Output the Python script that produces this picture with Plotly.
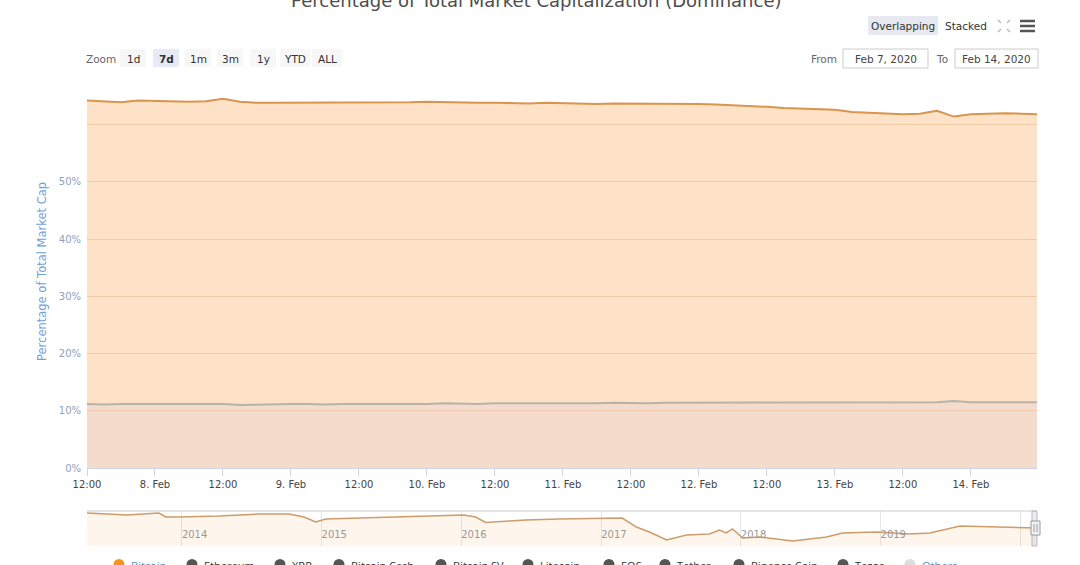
import plotly.graph_objects as go
import pandas as pd

# ---------------- data ----------------
btc_start = "2020-02-07 12:00"
btc_values = [64.2, 64.1, 63.9, 64.2, 64.1, 64.1, 64.0, 64.1, 64.5, 64.0,
              63.8, 63.8, 63.8, 63.8, 63.9, 63.8, 63.8, 63.9, 63.8, 63.9,
              64.0, 63.9, 63.8, 63.8, 63.8, 63.7, 63.7, 63.8, 63.7, 63.7,
              63.6, 63.7, 63.7, 63.6, 63.6, 63.6, 63.6, 63.5, 63.4, 63.2,
              63.1, 62.9, 62.8, 62.7, 62.6, 62.2, 62.1, 62.0, 61.8, 61.9,
              62.4, 61.4, 61.8, 61.9, 62.0, 61.9]
eth_values = [11.2, 11.1, 11.2, 11.2, 11.1, 11.1, 11.2, 11.2, 11.2, 11.0,
              11.1, 11.1, 11.2, 11.2, 11.1, 11.2, 11.2, 11.2, 11.1, 11.2,
              11.2, 11.3, 11.2, 11.2, 11.3, 11.3, 11.3, 11.2, 11.3, 11.3,
              11.3, 11.4, 11.3, 11.3, 11.4, 11.4, 11.4, 11.5, 11.4, 11.4,
              11.5, 11.4, 11.5, 11.5, 11.4, 11.5, 11.4, 11.5, 11.4, 11.5,
              11.5, 11.7, 11.5, 11.5, 11.5, 11.5]
end_time = "2020-02-14 11:40"
btc_end, eth_end = 61.8, 11.5

btc_times = list(pd.date_range(btc_start, periods=len(btc_values), freq="3h")) + [pd.Timestamp(end_time)]
btc_series = btc_values + [btc_end]
eth_series = eth_values + [eth_end]

nav_dates = ["2013-04-28", "2013-08-11", "2013-11-02", "2013-11-20", "2013-12-24",
             "2014-04-08", "2014-07-21", "2014-10-08", "2014-11-16", "2014-12-17",
             "2015-01-12", "2015-04-08", "2015-07-22", "2015-11-03", "2016-01-08",
             "2016-02-08", "2016-03-05", "2016-05-05", "2016-06-18", "2016-09-13",
             "2016-12-27", "2017-02-25", "2017-04-03", "2017-05-07", "2017-06-21",
             "2017-08-12", "2017-10-11", "2017-11-06", "2017-11-24", "2017-12-10",
             "2018-01-06", "2018-02-19", "2018-05-16", "2018-08-13", "2018-09-24",
             "2018-12-22", "2019-03-18", "2019-05-10", "2019-07-28", "2019-10-14",
             "2019-12-05", "2020-02-04", "2020-02-14"]
nav_values = [95.5, 91.1, 95.5, 86.6, 86.6,
              88.9, 93.3, 93.3, 86.6, 75.5,
              82.2, 84.4, 86.6, 88.9, 91.1,
              86.6, 74.4, 77.7, 79.9, 82.2,
              84.4, 84.4, 64.3, 53.2, 35.4,
              46.5, 48.7, 57.7, 51.0, 59.9,
              39.8, 42.1, 33.1, 42.1, 51.0,
              53.2, 48.7, 51.0, 66.6, 65.0,
              64.3, 62.1, 62.0]

x_tick_vals = pd.date_range("2020-02-07 12:00", "2020-02-14 00:00", freq="12h")
x_tick_text = ["12:00", "8. Feb", "12:00", "9. Feb", "12:00", "10. Feb", "12:00",
               "11. Feb", "12:00", "12. Feb", "12:00", "13. Feb", "12:00", "14. Feb"]
y_tick_vals = [0, 10, 20, 30, 40, 50, 60]
y_tick_text = ["0%", "10%", "20%", "30%", "40%", "50%", ""]
nav_years = ["2014", "2015", "2016", "2017", "2018", "2019", "2020"]

zoom_buttons = ["1d", "7d", "1m", "3m", "1y", "YTD", "ALL"]
legend_items = ["Bitcoin", "Ethereum", "XRP", "Bitcoin Cash", "Bitcoin SV", "Litecoin",
                "EOS", "Tether", "Binance Coin", "Tezos", "Others"]

# ---------------- layout helpers ----------------
W, H = 1080, 565
L, R, T, B = 87, 1037, 96, 546


def X(px):
    return (px - L) / (R - L)


def Y(py):
    return (B - py) / (B - T)


FONT = "DejaVu Sans"

fig = go.Figure()

fig.add_trace(go.Scatter(
    x=btc_times, y=btc_series, mode="lines", name="Bitcoin",
    line=dict(color="#d9954c", width=2), fill="tozeroy",
    fillcolor="rgba(250,170,90,0.34)", xaxis="x", yaxis="y", showlegend=False))
fig.add_trace(go.Scatter(
    x=btc_times, y=eth_series, mode="lines", name="Ethereum",
    line=dict(color="#b9b2ab", width=2), fill="tozeroy",
    fillcolor="rgba(225,200,215,0.25)", xaxis="x", yaxis="y", showlegend=False))
fig.add_trace(go.Scatter(
    x=nav_dates, y=nav_values, mode="lines", name="nav",
    line=dict(color="#cc9d6a", width=1.5), fill="tozeroy",
    fillcolor="rgba(247,160,80,0.10)", xaxis="x2", yaxis="y2", showlegend=False))

main_bottom = Y(468)
nav_top = Y(511)

fig.update_layout(
    width=W, height=H,
    margin=dict(l=L, r=W - R, t=T, b=H - B),
    paper_bgcolor="white", plot_bgcolor="white",
    font=dict(family=FONT, color="#333333"),
    showlegend=False,
    xaxis=dict(
        domain=[0, 1], anchor="y",
        range=[btc_times[0], btc_times[-1]], type="date",
        tickvals=list(x_tick_vals), ticktext=x_tick_text,
        ticks="outside", ticklen=7, tickcolor="#ccd6eb",
        tickfont=dict(size=10, color="#444444"),
        showgrid=False, showline=True, linecolor="#ccd6eb", zeroline=False,
    ),
    yaxis=dict(
        domain=[main_bottom, 1], anchor="x",
        range=[0, 65], tickvals=y_tick_vals, ticktext=y_tick_text,
        tickfont=dict(size=10, color="#8ea2bd"),
        ticklabelstandoff=5,
        showgrid=True, gridcolor="#ebdccd", gridwidth=1,
        zeroline=False, showline=False,
    ),
    xaxis2=dict(
        domain=[0, 1], anchor="y2", type="date",
        range=[nav_dates[0], nav_dates[-1]],
        tickvals=[f"{y}-01-01" for y in nav_years], ticktext=nav_years,
        ticklabelposition="inside right", ticks="",
        tickfont=dict(size=10, color="#999999"),
        showgrid=True, gridcolor="#e6e6e6", showline=False, zeroline=False,
    ),
    yaxis2=dict(
        domain=[0, nav_top], anchor="x2", range=[22, 100],
        showticklabels=False, showgrid=False, zeroline=False,
    ),
)

shapes = []
ann = []

# title (cropped at the top of the picture)
ann.append(dict(text="Percentage of Total Market Capitalization (Dominance)",
                x=X(536), y=Y(0.5), xref="paper", yref="paper", showarrow=False,
                xanchor="center", yanchor="middle",
                font=dict(size=18, color="#4d4d4d", family=FONT)))

# y axis title
ann.append(dict(text="Percentage of Total Market Cap", x=X(42), y=Y(272),
                xref="paper", yref="paper", showarrow=False, textangle=-90,
                xanchor="center", yanchor="middle",
                font=dict(size=11.5, color="#6f9fd8", family=FONT)))

# range selector
ann.append(dict(text="Zoom", x=X(101), y=Y(59), xref="paper", yref="paper",
                showarrow=False, xanchor="center", yanchor="middle",
                font=dict(size=10.5, color="#666666", family=FONT)))
btn_centers = [133, 166, 198, 230, 263, 295, 327]
for label, cx in zip(zoom_buttons, btn_centers):
    w = 30 if len(label) == 3 else 26
    sel = label == "7d"
    shapes.append(dict(type="rect", xref="paper", yref="paper",
                       x0=X(cx - w / 2), x1=X(cx + w / 2), y0=Y(67), y1=Y(49),
                       fillcolor="#e6ebf5" if sel else "#f7f7f7", line=dict(width=0), layer="above"))
    ann.append(dict(text=f"<b>{label}</b>" if sel else label, x=X(cx), y=Y(58.5),
                    xref="paper", yref="paper", showarrow=False,
                    xanchor="center", yanchor="middle",
                    font=dict(size=10.5, color="#333333", family=FONT)))

# overlapping / stacked
shapes.append(dict(type="rect", xref="paper", yref="paper", x0=X(868), x1=X(938),
                   y0=Y(35), y1=Y(16), fillcolor="#e6e9ef", line=dict(width=0), layer="above"))
ann.append(dict(text="Overlapping", x=X(903), y=Y(26), xref="paper", yref="paper",
                showarrow=False, xanchor="center", yanchor="middle",
                font=dict(size=10.5, color="#333333", family=FONT)))
ann.append(dict(text="Stacked", x=X(966), y=Y(26), xref="paper", yref="paper",
                showarrow=False, xanchor="center", yanchor="middle",
                font=dict(size=10.5, color="#333333", family=FONT)))

# fullscreen icon
fx, fy = 1004, 26
for sx in (-1, 1):
    for sy in (-1, 1):
        shapes.append(dict(type="line", xref="paper", yref="paper",
                           x0=X(fx + sx * 6), y0=Y(fy + sy * 6), x1=X(fx + sx * 3), y1=Y(fy + sy * 3),
                           line=dict(color="#bbbbbb", width=1.5), layer="above"))
# hamburger
for hy in (21, 26, 31):
    shapes.append(dict(type="line", xref="paper", yref="paper",
                       x0=X(1020), x1=X(1035), y0=Y(hy), y1=Y(hy),
                       line=dict(color="#555555", width=2.5), layer="above"))

# from / to inputs
ann.append(dict(text="From", x=X(824), y=Y(58.5), xref="paper", yref="paper",
                showarrow=False, xanchor="center", yanchor="middle",
                font=dict(size=10.5, color="#666666", family=FONT)))
ann.append(dict(text="To", x=X(942), y=Y(58.5), xref="paper", yref="paper",
                showarrow=False, xanchor="center", yanchor="middle",
                font=dict(size=10.5, color="#666666", family=FONT)))
for x0, x1, txt in ((843, 928, "Feb 7, 2020"), (955, 1038, "Feb 14, 2020")):
    shapes.append(dict(type="rect", xref="paper", yref="paper", x0=X(x0), x1=X(x1),
                       y0=Y(68), y1=Y(49), fillcolor="white",
                       line=dict(color="#cccccc", width=1), layer="above"))
    ann.append(dict(text=txt, x=X((x0 + x1) / 2), y=Y(58.5), xref="paper", yref="paper",
                    showarrow=False, xanchor="center", yanchor="middle",
                    font=dict(size=10.5, color="#444444", family=FONT)))

# navigator outline and handle
shapes.append(dict(type="line", xref="paper", yref="paper", x0=0, x1=1, y0=Y(511), y1=Y(511),
                   line=dict(color="#cccccc", width=1), layer="above"))
shapes.append(dict(type="rect", xref="paper", yref="paper", x0=X(1032), x1=X(1037),
                   y0=Y(546), y1=Y(511), fillcolor="rgba(102,133,194,0.15)",
                   line=dict(color="#bbbbbb", width=1), layer="above"))
shapes.append(dict(type="rect", xref="paper", yref="paper", x0=X(1031), x1=X(1040),
                   y0=Y(535), y1=Y(521), fillcolor="#f2f2f2",
                   line=dict(color="#999999", width=1), layer="above"))
for hx in (1034, 1037):
    shapes.append(dict(type="line", xref="paper", yref="paper", x0=X(hx), x1=X(hx),
                       y0=Y(532), y1=Y(524), line=dict(color="#999999", width=1), layer="above"))

# legend (mostly cropped at the bottom)
legend_x = [119, 192, 280, 339, 441, 528, 609, 665, 739, 843, 910]
legend_colors = ["#f7931a"] + ["#555555"] * 9 + ["#dddddd"]
legend_text_colors = ["#4a8fd6"] + ["#333333"] * 9 + ["#4a8fd6"]
for name, lx, mc, tc in zip(legend_items, legend_x, legend_colors, legend_text_colors):
    shapes.append(dict(type="circle", xref="paper", yref="paper",
                       x0=X(lx - 5.5), x1=X(lx + 5.5), y0=Y(570), y1=Y(559),
                       fillcolor=mc, line=dict(width=0), layer="above"))
    ann.append(dict(text=name, x=X(lx + 10), y=Y(565.5), xref="paper", yref="paper",
                    showarrow=False, xanchor="left", yanchor="middle",
                    font=dict(size=11, color=tc, family="Open Sans")))

fig.update_layout(shapes=shapes, annotations=ann)

fig.write_html("out.html", config={"displayModeBar": False},
               post_script="document.body.style.margin='0';document.body.style.overflow='hidden';")
